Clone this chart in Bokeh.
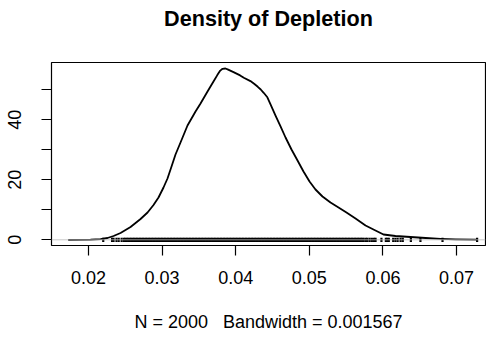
from bokeh.plotting import figure
from bokeh.models import FixedTicker, Span, Range1d, Title
from bokeh.embed import file_html
from bokeh.resources import INLINE

# Density curve
dens_x = [0.01724, 0.02027, 0.02163, 0.02258, 0.02340, 0.02435, 0.02571, 0.02707,
          0.02802, 0.02883, 0.02951, 0.03019, 0.03073, 0.03128, 0.03182, 0.03250,
          0.03345, 0.03454, 0.03522, 0.03617, 0.03698, 0.03750, 0.03790, 0.03821,
          0.03860, 0.03890, 0.03970, 0.04060, 0.04110, 0.04200, 0.04250, 0.04300,
          0.04340, 0.04380, 0.04430, 0.04470, 0.04541, 0.04609, 0.04677, 0.04758,
          0.04840, 0.04921, 0.05003, 0.05084, 0.05179, 0.05288, 0.05397, 0.05505,
          0.05628, 0.05764, 0.05899, 0.06008, 0.06171, 0.06375, 0.06579, 0.06783,
          0.06986, 0.07281]
dens_y = [0.0, 0.03, 0.23, 0.6, 1.27, 2.27, 4.27, 6.93,
          9.1, 11.6, 14.1, 17.43, 20.43, 24.43, 28.43, 32.43,
          38.1, 42.77, 45.43, 49.43, 52.77, 54.9, 56.4, 57.0,
          57.1, 56.8, 55.9, 54.8, 54.0, 52.9, 52.0, 51.0,
          50.1, 49.0, 47.5, 45.3, 41.43, 37.77, 34.1, 30.1,
          26.43, 22.77, 19.43, 16.77, 14.43, 12.43, 10.77, 9.1,
          7.1, 4.77, 3.1, 1.77, 1.27, 0.93, 0.6, 0.33,
          0.17, 0.03]

rug_obs_e4 = [220, 232, 234, 238, 241, 245,
              248, 250, 252, 254, 256, 258, 260, 262, 264, 266, 268, 270, 272, 274,
              276, 278, 280, 282, 284, 286, 288, 290, 292, 294, 296, 298, 300, 302,
              304, 306, 308, 310, 312, 314, 316, 318, 320, 322, 324, 326, 328, 330,
              332, 334, 336, 338, 340, 342, 344, 346, 348, 350, 352, 354, 356, 358,
              360, 362, 364, 366, 368, 370, 372, 374, 376, 378, 380, 382, 384, 386,
              388, 390, 392, 394, 396, 398, 400, 402, 404, 406, 408, 410, 412, 414,
              416, 418, 420, 422, 424, 426, 428, 430, 432, 434, 436, 438, 440, 442,
              444, 446, 448, 450, 452, 454, 456, 458, 460, 462, 464, 466, 468, 470,
              472, 474, 476, 478, 480, 482, 484, 486, 488, 490, 492, 494, 496, 498,
              500, 502, 504, 506, 508, 510, 512, 514, 516, 518, 520, 522, 524, 526,
              528, 530, 532, 534, 536, 538, 540, 542, 544, 546, 548, 550, 552, 554,
              556, 558, 560, 562, 564, 566, 568, 570, 572,
              574, 577, 579, 582, 585, 588, 590, 598, 604, 606, 608, 614, 617, 620,
              624, 627, 638, 651, 681, 728]
rug_x = [v / 10000 for v in rug_obs_e4]

x_ticks = [0.02, 0.03, 0.04, 0.05, 0.06, 0.07]
y_ticks = [0, 10, 20, 30, 40, 50]
y_hidden_labels = [10, 30, 50]

title_text = "Density of Depletion"
sub_text = "N = 2000 \u00a0 Bandwidth = 0.001567"

FONT = "Liberation Sans"

p = figure(width=486, height=339, output_backend="svg", toolbar_location=None,
           x_range=Range1d(0.01497, 0.07394), y_range=Range1d(-1.9, 59.1),
           min_border_left=51, min_border_right=1, min_border_top=62,
           min_border_bottom=94)
p.title_location = None

p.background_fill_color = "white"
p.border_fill_color = "white"
p.outline_line_color = "black"
p.outline_line_width = 1.2
p.xgrid.visible = False
p.ygrid.visible = False

# spacer between frame and main title, then the main title (stacked outward)
p.add_layout(Title(text=" ", text_font_size="1px", standoff=26), "above")
p.add_layout(Title(text=title_text, text_font=FONT, text_font_size="21.6px",
                   text_font_style="bold", align="center", standoff=6,
                   text_color="black"), "above")

# zero line
p.add_layout(Span(location=0, dimension="width", line_color="#bbbbbb", line_width=0.8))

# rug
p.segment(x0=rug_x, y0=[-0.7] * len(rug_x), x1=rug_x, y1=[0.7] * len(rug_x),
          line_color="black", line_width=2.2)

# density curve
p.line(dens_x, dens_y, line_color="black", line_width=1.8, line_join="round")

xa = p.xaxis[0]
xa.ticker = FixedTicker(ticks=x_ticks)
xa.axis_line_color = None
xa.major_tick_out = 10
xa.major_tick_in = 0
xa.minor_tick_line_color = None
xa.major_tick_line_color = "black"
xa.major_tick_line_width = 1.2
xa.major_label_text_font = FONT
xa.major_label_text_font_size = "18px"
xa.major_label_text_color = "black"
xa.major_label_standoff = 15
xa.axis_label = sub_text
xa.axis_label_text_font = FONT
xa.axis_label_text_font_size = "18px"
xa.axis_label_text_font_style = "normal"
xa.axis_label_text_color = "black"
xa.axis_label_standoff = 25

ya = p.yaxis[0]
ya.ticker = FixedTicker(ticks=y_ticks)
ya.major_label_overrides = {v: "" for v in y_hidden_labels}
ya.axis_line_color = None
ya.major_tick_out = 10
ya.major_tick_in = 0
ya.minor_tick_line_color = None
ya.major_tick_line_color = "black"
ya.major_tick_line_width = 1.2
ya.major_label_text_font = FONT
ya.major_label_text_font_size = "18px"
ya.major_label_text_color = "black"
ya.major_label_orientation = "parallel"
ya.major_label_standoff = 20

open("out.html", "w").write(file_html(p, INLINE))
